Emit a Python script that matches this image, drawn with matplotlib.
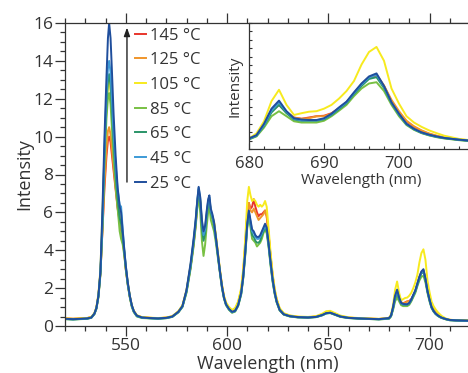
import matplotlib
matplotlib.use("Agg")
import matplotlib.pyplot as plt
from matplotlib.lines import Line2D
from matplotlib.ticker import MultipleLocator, NullFormatter, FixedLocator

plt.rcParams['font.family'] = ['Open Sans', 'DejaVu Sans']

# ---------------- data ----------------
wavelength = [
    520, 524, 528, 531, 533, 534.5, 535.5, 536.5, 537.5, 538.5, 539.5, 540.5, 541.2, 541.8, 542.5,
    543.2, 544, 545, 546, 547, 547.7, 548.5, 549.3, 550, 551, 552, 553, 554, 555.5, 558,
    562, 566, 570, 573, 576, 578, 580, 582, 583.5, 584.5, 585.3, 586, 586.8, 587.6, 588.4,
    589.2, 590, 590.7, 591.3, 592, 592.8, 593.6, 594.5, 595.5, 596.5, 597.5, 598.5, 599.5,
    601, 602.5, 604, 605.5, 607, 608, 609, 610, 610.8, 611.6, 612.4, 613.2, 614, 614.8,
    615.6, 616.4, 617.2, 618, 618.8, 619.6, 620.5, 621.5, 622.5, 623.5, 624.5, 626, 628, 631,
    635, 640, 644, 647, 649, 651, 653, 656, 660, 665, 670, 675,
    680, 681, 682, 683, 684, 685, 686, 687, 688, 689, 690, 691, 692, 693, 694, 695, 696, 697,
    698, 699, 700, 701, 702, 703, 704, 705, 706, 708, 710, 713, 716, 720]

int_145 = [
    .40, .38, .40, .42, .47, .65, .95, 1.6, 2.8, 5.0, 7.3, 9.0, 9.8, 10.0, 9.7,
    9.0, 8.2, 7.2, 6.2, 5.5, 5.1, 4.5, 3.8, 3.0, 2.2, 1.55, 1.05, .78, .55, .46,
    .43, .41, .44, .51, .76, 1.05, 1.85, 3.1, 4.3, 5.3, 6.3, 7.0, 6.5, 5.3, 4.7,
    5.0, 5.8, 6.4, 6.6, 6.0, 5.7, 5.4, 4.7, 3.8, 2.9, 2.15, 1.55, 1.2,
    .95, .80, .88, 1.2, 1.85, 2.8, 4.2, 5.9, 6.5, 6.2, 6.3, 6.7, 6.3, 6.0,
    5.8, 5.9, 5.9, 6.0, 6.1, 5.8, 4.9, 3.7, 2.7, 1.9, 1.4, .90, .65, .54,
    .48, .46, .50, .60, .72, .74, .65, .52, .44, .41, .39, .37,
    .42, .55, .95, 1.5, 1.75, 1.45, 1.25, 1.2, 1.25, 1.3, 1.32, 1.42, 1.62, 1.85, 2.2, 2.55, 2.82, 2.92,
    2.5, 1.9, 1.45, 1.1, .88, .72, .60, .52, .45, .37, .32, .30, .29, .28]

int_125 = [
    .40, .38, .40, .42, .47, .66, .96, 1.6, 2.8, 5.1, 7.6, 9.4, 10.3, 10.5, 10.1,
    9.3, 8.4, 7.3, 6.3, 5.6, 5.2, 4.6, 3.85, 3.05, 2.25, 1.57, 1.07, .78, .55, .46,
    .43, .41, .44, .51, .77, 1.07, 1.87, 3.15, 4.35, 5.35, 6.4, 7.1, 6.6, 5.35, 4.75,
    5.05, 5.85, 6.45, 6.65, 6.05, 5.75, 5.45, 4.75, 3.85, 2.95, 2.15, 1.55, 1.2,
    .95, .82, .90, 1.22, 1.9, 2.85, 4.3, 6.0, 6.5, 6.1, 6.0, 6.2, 6.0, 5.8,
    5.6, 5.7, 5.8, 5.9, 6.1, 5.8, 4.9, 3.7, 2.7, 1.9, 1.4, .90, .65, .54,
    .48, .46, .50, .61, .72, .75, .66, .52, .44, .41, .39, .37,
    .42, .56, .96, 1.52, 1.8, 1.48, 1.24, 1.2, 1.22, 1.3, 1.3, 1.4, 1.6, 1.85, 2.2, 2.58, 2.85, 2.95,
    2.52, 1.95, 1.5, 1.12, .90, .74, .62, .53, .46, .38, .33, .30, .29, .28]

int_105 = [
    .40, .38, .40, .42, .48, .68, 1.0, 1.7, 3.0, 6.0, 9.0, 11.5, 12.6, 13.0, 12.4,
    11.2, 9.6, 8.0, 6.7, 5.8, 5.5, 4.7, 3.9, 3.1, 2.3, 1.6, 1.1, .80, .57, .47,
    .44, .42, .45, .52, .78, 1.1, 1.9, 3.2, 4.4, 5.4, 6.4, 7.1, 6.6, 5.3, 4.6,
    4.9, 5.8, 6.4, 6.6, 6.0, 5.8, 5.5, 4.8, 3.9, 3.0, 2.2, 1.6, 1.25,
    1.0, .85, .95, 1.3, 2.0, 3.0, 4.6, 6.6, 7.35, 6.9, 6.6, 6.7, 6.6, 6.4,
    6.3, 6.4, 6.3, 6.4, 6.6, 6.3, 5.2, 3.9, 2.8, 2.0, 1.45, .95, .68, .56,
    .50, .48, .52, .65, .78, .80, .70, .55, .46, .42, .40, .38,
    .42, .62, 1.1, 1.9, 2.35, 1.75, 1.35, 1.42, 1.48, 1.5, 1.6, 1.75, 2.0, 2.3, 2.7, 3.35, 3.85, 4.05,
    3.5, 2.4, 1.8, 1.3, 1.05, .88, .74, .63, .53, .40, .33, .31, .30, .29]

int_85 = [
    .36, .34, .36, .38, .43, .62, .90, 1.5, 2.7, 5.2, 8.6, 11.0, 12.0, 12.3, 11.7,
    10.4, 8.9, 7.4, 6.2, 5.0, 4.6, 4.3, 3.7, 3.0, 2.15, 1.5, 1.0, .72, .50, .42,
    .40, .38, .41, .48, .72, 1.0, 1.75, 3.0, 4.2, 5.2, 6.2, 6.9, 6.0, 4.5, 3.7,
    4.3, 5.3, 6.0, 6.3, 5.6, 5.3, 5.0, 4.4, 3.6, 2.8, 2.0, 1.45, 1.1,
    .85, .70, .76, 1.05, 1.65, 2.5, 3.7, 5.2, 5.8, 5.2, 4.6, 4.5, 4.4, 4.2,
    4.3, 4.4, 4.6, 4.9, 5.1, 4.9, 4.2, 3.2, 2.35, 1.7, 1.25, .82, .60, .50,
    .45, .44, .47, .56, .66, .68, .60, .48, .42, .39, .37, .35,
    .38, .50, .85, 1.3, 1.5, 1.3, 1.1, 1.05, 1.05, 1.05, 1.12, 1.3, 1.52, 1.75, 2.1, 2.4, 2.6, 2.65,
    2.3, 1.75, 1.3, .95, .76, .63, .54, .47, .42, .35, .30, .29, .28, .27]

int_65 = [
    .37, .35, .37, .39, .44, .63, .92, 1.55, 2.8, 5.4, 9.0, 11.8, 12.9, 13.3, 12.7,
    11.4, 9.7, 8.0, 6.7, 5.7, 5.4, 4.7, 3.9, 3.1, 2.2, 1.55, 1.05, .75, .52, .44,
    .41, .39, .42, .49, .73, 1.02, 1.8, 3.1, 4.4, 5.4, 6.5, 7.2, 6.5, 5.2, 4.5,
    4.9, 5.8, 6.5, 6.7, 6.0, 5.7, 5.3, 4.6, 3.7, 2.85, 2.05, 1.48, 1.12,
    .87, .72, .78, 1.08, 1.7, 2.55, 3.8, 5.3, 5.9, 5.4, 4.8, 4.7, 4.5, 4.4,
    4.4, 4.5, 4.8, 5.0, 5.2, 5.0, 4.3, 3.3, 2.4, 1.75, 1.28, .84, .61, .51,
    .46, .44, .47, .57, .67, .69, .61, .49, .42, .39, .37, .35,
    .39, .52, .92, 1.45, 1.75, 1.42, 1.17, 1.12, 1.12, 1.12, 1.18, 1.35, 1.58, 1.82, 2.18, 2.5, 2.78, 2.85,
    2.42, 1.82, 1.36, .98, .78, .64, .55, .48, .43, .36, .31, .29, .28, .27]

int_45 = [
    .37, .35, .37, .39, .44, .64, .93, 1.58, 2.85, 5.6, 9.4, 12.4, 13.6, 14.0, 13.4,
    12.0, 10.2, 8.5, 7.2, 6.4, 6.3, 5.1, 4.0, 3.2, 2.25, 1.58, 1.07, .76, .53, .44,
    .41, .39, .42, .49, .74, 1.03, 1.85, 3.2, 4.5, 5.5, 6.6, 7.3, 6.7, 5.5, 4.8,
    5.1, 6.0, 6.6, 6.8, 6.1, 5.8, 5.4, 4.65, 3.75, 2.88, 2.08, 1.5, 1.13,
    .88, .73, .79, 1.1, 1.72, 2.58, 3.85, 5.35, 6.0, 5.5, 5.0, 4.9, 4.7, 4.6,
    4.6, 4.7, 4.9, 5.1, 5.3, 5.1, 4.35, 3.35, 2.45, 1.78, 1.3, .85, .62, .52,
    .46, .45, .48, .57, .67, .70, .62, .50, .43, .40, .38, .36,
    .40, .54, .95, 1.52, 1.85, 1.48, 1.2, 1.14, 1.14, 1.14, 1.2, 1.38, 1.62, 1.85, 2.22, 2.56, 2.84, 2.95,
    2.47, 1.84, 1.38, .99, .79, .65, .56, .49, .44, .37, .31, .29, .28, .27]

int_25 = [
    .38, .36, .38, .40, .45, .65, .95, 1.6, 2.9, 6.2, 10.0, 13.2, 15.2, 16.0, 15.2,
    13.4, 11.2, 9.0, 7.3, 6.3, 6.0, 5.0, 4.0, 3.2, 2.3, 1.6, 1.1, .78, .55, .45,
    .42, .40, .43, .50, .75, 1.05, 1.9, 3.3, 4.6, 5.6, 6.6, 7.35, 6.8, 5.6, 5.0,
    5.3, 6.1, 6.7, 6.9, 6.2, 5.9, 5.5, 4.7, 3.8, 2.9, 2.1, 1.5, 1.15,
    .90, .75, .80, 1.1, 1.75, 2.6, 3.9, 5.4, 6.1, 5.6, 5.1, 5.0, 4.8, 4.7,
    4.7, 4.8, 5.0, 5.2, 5.4, 5.2, 4.4, 3.4, 2.5, 1.8, 1.3, .85, .62, .52,
    .47, .45, .48, .58, .68, .70, .62, .50, .43, .40, .38, .36,
    .42, .55, 1.0, 1.6, 1.92, 1.5, 1.22, 1.17, 1.15, 1.15, 1.22, 1.4, 1.65, 1.88, 2.25, 2.6, 2.88, 3.0,
    2.5, 1.85, 1.4, 1.0, .80, .66, .57, .50, .44, .37, .32, .30, .29, .28]

series_labels = ['145 °C', '125 °C', '105 °C', '85 °C', '65 °C', '45 °C', '25 °C']
series_colors = ['#e8352b', '#f0952b', '#f7ea1e', '#78c043', '#2a9468', '#3d9ad6', '#1f4e9c']
series_values = [int_145, int_125, int_105, int_85, int_65, int_45, int_25]
inset_tick_labels = [680, 690, 700]

# ---------------- figure ----------------
W, H = 468, 373
fig = plt.figure(figsize=(W / 100, H / 100), dpi=100)
text_col = '#333333'
fs_tick = 12.5
fs_label = 13
fs_leg = 12
fs_in_tick = 12
fs_in_label = 11

ax = fig.add_axes([65 / W, 1 - 326 / H, 405 / W, 303 / H])
for vals, col in zip(series_values, series_colors):
    ax.plot(wavelength, vals, color=col, lw=1.4)
ax.set_xlim(520, 720)
ax.set_ylim(0, 16)
ax.xaxis.set_major_locator(MultipleLocator(50))
ax.xaxis.set_minor_locator(MultipleLocator(10))
ax.yaxis.set_major_locator(MultipleLocator(2))
ax.yaxis.set_minor_locator(MultipleLocator(0.5))
ax.tick_params(which='both', direction='out', top=True, right=False,
               colors=text_col, labelsize=fs_tick, width=0.9)
ax.tick_params(which='major', length=7, pad=1.5)
ax.tick_params(which='minor', length=3.5)
ax.spines['right'].set_visible(False)
for s in ['left', 'bottom', 'top']:
    ax.spines[s].set_color(text_col)
    ax.spines[s].set_linewidth(0.9)
ax.set_xlabel('Wavelength (nm)', fontsize=fs_label, color=text_col, labelpad=1)
ax.set_ylabel('Intensity', fontsize=fs_label, color=text_col, labelpad=0)

handles = [Line2D([], [], color=c, lw=1.4) for c in series_colors]
leg = ax.legend(handles, series_labels, loc='upper left', bbox_to_anchor=(0.172, 0.985),
                frameon=False, handlelength=0.7, handletextpad=0.2, labelspacing=0.52,
                borderaxespad=0, borderpad=0, fontsize=fs_leg)
for t in leg.get_texts():
    t.set_color(text_col)

ax.annotate('', xy=(0.153, 0.985), xytext=(0.153, 0.475), xycoords='axes fraction',
            arrowprops=dict(arrowstyle='-|>,head_length=0.5,head_width=0.18',
                            color='#222222', lw=1.0, shrinkA=0, shrinkB=0))

# ---------------- inset ----------------
axin = fig.add_axes([249 / W, 1 - 149 / H, 225 / W, 126 / H])
for vals, col in zip(series_values, series_colors):
    axin.plot(wavelength, vals, color=col, lw=1.4)
axin.set_xlim(680, 710)
axin.set_ylim(0, 5)
axin.xaxis.set_major_locator(FixedLocator(inset_tick_labels))
axin.xaxis.set_minor_locator(MultipleLocator(2))
axin.yaxis.set_major_locator(MultipleLocator(5 / 15))
axin.yaxis.set_major_formatter(NullFormatter())
axin.tick_params(which='both', direction='in', colors=text_col, labelsize=fs_in_tick, width=0.8)
axin.tick_params(axis='x', which='major', length=4, pad=5)
axin.tick_params(axis='x', which='minor', length=2.5)
axin.tick_params(axis='y', length=2.5)
for s in axin.spines.values():
    s.set_color(text_col)
    s.set_linewidth(0.9)
axin.set_xlabel('Wavelength (nm)', fontsize=fs_in_label, color=text_col, labelpad=1)
axin.set_ylabel('Intensity', fontsize=fs_in_label, color=text_col, labelpad=1)

fig.savefig('out.png', dpi=100)
